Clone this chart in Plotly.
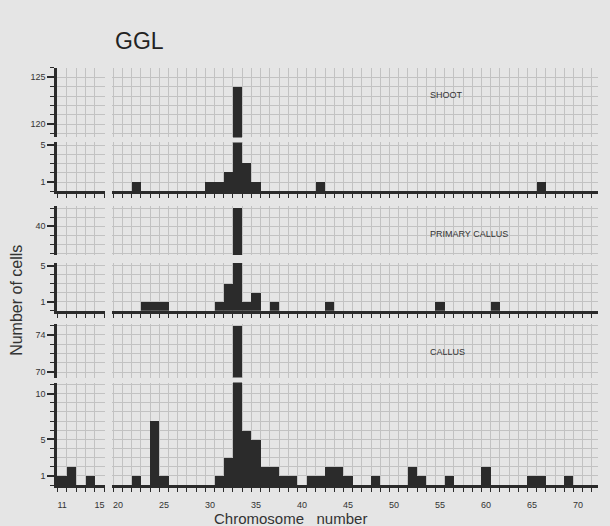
import plotly.graph_objects as go

W, H = 610, 526

# ---- data (chromosome number -> number of cells) ----
shoot_x = [22, 30, 31, 32, 33, 34, 35, 42, 66]
shoot_y = [1, 1, 1, 2, 124, 3, 1, 1, 1]

primary_x = [23, 24, 25, 31, 32, 33, 34, 35, 37, 43, 55, 61]
primary_y = [1, 1, 1, 1, 3, 42, 1, 2, 1, 1, 1, 1]

callus_x = [11, 12, 14, 22, 24, 25, 31, 32, 33, 34, 35, 36, 37, 38, 39,
            41, 42, 43, 44, 45, 48, 52, 53, 56, 60, 65, 66, 69]
callus_y = [1, 2, 1, 1, 7, 1, 1, 3, 75, 6, 5, 2, 2, 1, 1,
            1, 1, 2, 2, 1, 1, 2, 1, 1, 2, 1, 1, 1]

x_left_ticks = [11, 15]
x_right_ticks = [20, 25, 30, 35, 40, 45, 50, 55, 60, 65, 70]

panel_names = ["SHOOT", "PRIMARY CALLUS", "CALLUS"]
upper_ticks = [[120, 125], [40], [70, 74]]
lower_ticks = [[1, 5], [1, 5], [1, 5, 10]]

# ---- layout geometry (pixels) ----
DARK = "#2b2b2b"
GRID = "#c2c2c2"
BG = "#e5e5e5"
TICKFONT = dict(family="Liberation Sans Narrow, Liberation Sans, Arial", size=9, color="#333")

x_cols = [  # (px0, px1, range)
    (57, 105, [10.45, 15.58]),
    (112, 598, [19.35, 72.17]),
]
# per panel: upper (px_top, px_bottom, range), lower (px_top, px_bottom, range)
panels_geo = [
    ((66, 136, [118.6, 126.0]), (141, 190, [0, 5.3])),
    ((205, 254, [36.8, 42.2]), (262, 310, [0, 5.3])),
    ((323, 377, [69.4, 75.2]), (382, 485, [0, 11.2])),
]
label_pos = [(428, 93), (428, 233), (428, 351)]

datasets = [(shoot_x, shoot_y), (primary_x, primary_y), (callus_x, callus_y)]

fig = go.Figure()
layout = {}
k = 0
for p, (xs, ys) in enumerate(datasets):
    for s, (ypx0, ypx1, yr) in enumerate(panels_geo[p]):
        is_lower = (s == 1)
        ytv = lower_ticks[p] if is_lower else upper_ticks[p]
        for c, (xpx0, xpx1, xr) in enumerate(x_cols):
            k += 1
            xn = "x" if k == 1 else f"x{k}"
            yn = "y" if k == 1 else f"y{k}"
            xa = "xaxis" if k == 1 else f"xaxis{k}"
            ya = "yaxis" if k == 1 else f"yaxis{k}"
            if c == 0:
                bx = [v for v in xs if v < 17]
                by = [ys[i] for i, v in enumerate(xs) if v < 17]
            else:
                bx = [v for v in xs if v > 17]
                by = [ys[i] for i, v in enumerate(xs) if v > 17]
            fig.add_trace(go.Bar(x=bx, y=by, width=1, xaxis=xn, yaxis=yn,
                                 marker=dict(color=DARK, line=dict(width=0)),
                                 showlegend=False, hoverinfo="skip"))
            xtv = x_left_ticks if c == 0 else x_right_ticks
            bottom = (p == 2 and is_lower)
            layout[xa] = dict(
                domain=[xpx0 / W, xpx1 / W], range=xr, anchor=yn,
                showgrid=False, zeroline=False,
                showline=is_lower, linewidth=3, linecolor=DARK,
                tickmode="array", tickvals=xtv if bottom else [],
                ticks="", showticklabels=bottom, tickfont=TICKFONT,
                ticklabelstandoff=9,
                minor=dict(tickmode="linear", tick0=0.5, dtick=1,
                           ticks="outside" if is_lower else "", ticklen=4,
                           tickcolor=DARK, tickwidth=1,
                           showgrid=True, gridcolor=GRID, gridwidth=1),
            )
            layout[ya] = dict(
                domain=[1 - ypx1 / H, 1 - ypx0 / H], range=yr, anchor=xn,
                zeroline=False, showgrid=True, gridcolor=GRID, gridwidth=1,
                showline=(c == 0), linewidth=2.5, linecolor=DARK,
                tickmode="array", tickvals=ytv,
                ticks="outside" if c == 0 else "", ticklen=7, tickwidth=1.5,
                tickcolor=DARK, showticklabels=(c == 0), tickfont=TICKFONT,
                minor=dict(tickmode="linear", tick0=0, dtick=1,
                           ticks="outside" if c == 0 else "", ticklen=4,
                           tickcolor=DARK, tickwidth=1.2,
                           showgrid=True, gridcolor=GRID, gridwidth=1),
            )

annotations = []
for name, (lx, ly) in zip(panel_names, label_pos):
    annotations.append(dict(text=name, x=lx / W, y=1 - ly / H, xref="paper", yref="paper",
                            xanchor="left", yanchor="middle", showarrow=False,
                            font=dict(family="Liberation Sans Narrow, Liberation Sans", size=9, color="#333")))
annotations.append(dict(text="GGL", x=113 / W, y=1 - 39 / H, xref="paper", yref="paper",
                        xanchor="left", yanchor="middle", showarrow=False,
                        font=dict(family="Liberation Sans, Arial", size=23, color="#222")))
annotations.append(dict(text="Chromosome&nbsp;&nbsp;&nbsp;number", x=290 / W, y=1 - 518 / H,
                        xref="paper", yref="paper", xanchor="center", yanchor="middle",
                        showarrow=False,
                        font=dict(family="Liberation Sans, Arial", size=15, color="#333")))
annotations.append(dict(text="Number of cells", x=17 / W, y=1 - 300 / H, xref="paper", yref="paper",
                        xanchor="center", yanchor="middle", textangle=-90, showarrow=False,
                        font=dict(family="Liberation Sans, Arial", size=16, color="#333")))

fig.update_layout(
    width=W, height=H, margin=dict(l=0, r=0, t=0, b=0),
    paper_bgcolor=BG, plot_bgcolor=BG, bargap=0,
    annotations=annotations, **layout,
)

fig.write_html(
    "out.html",
    config={"displayModeBar": False},
    post_script="document.body.style.margin='0';document.body.style.overflow='hidden';",
)
